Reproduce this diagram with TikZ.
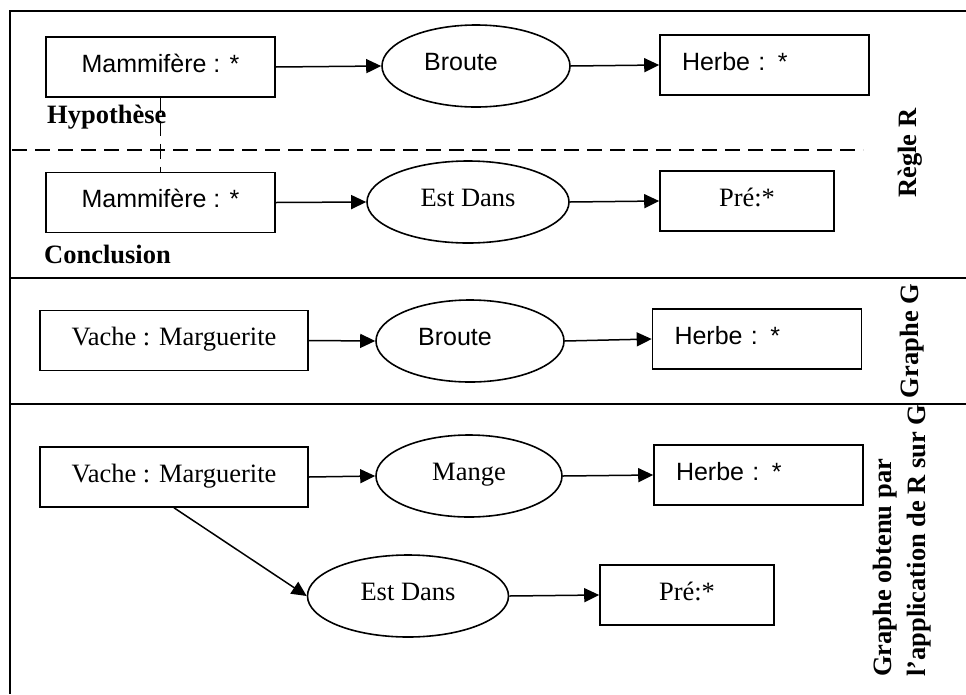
\documentclass[tikz,border=0pt]{standalone}
\usepackage{fontspec}
\setmainfont{Liberation Serif}
\newfontfamily\arialfont{Liberation Sans}
\usetikzlibrary{arrows.meta,shapes.geometric}

\begin{document}
\begin{tikzpicture}[x=1pt,y=-1pt,
  frameline/.style={line width=2pt},
  sepline/.style={line width=1.6pt, dash pattern=on 15pt off 8pt},
  conbox/.style={draw, line width=1.6pt, inner sep=0pt, minimum height=60pt, text depth=8pt},
  herbebox/.style={conbox, sanstxt, text width=165pt, inner xsep=22pt, align=left},
  relell/.style={draw, ellipse, line width=1.6pt, inner sep=0pt, minimum height=82pt, text depth=8pt},
  sanstxt/.style={font=\arialfont\fontsize{25}{30}\selectfont},
  sertxt/.style={font=\fontsize{26.5}{30}\selectfont},
  lbl/.style={font=\bfseries\fontsize{26.5}{30}\selectfont, inner sep=0pt},
  arr/.style={line width=1.5pt, -{Triangle[length=15pt,width=14pt]}},
]
\useasboundingbox (0,0) rectangle (966,694);

% outer frame and section rules
\draw[frameline] (966,10.5) -- (9.5,10.5) -- (9.5,694);
\draw[frameline] (9.5,278) -- (966,278);
\draw[frameline] (9.5,404) -- (966,404);
\draw[sepline] (12,150) -- (863,150);

% rule R : hypothesis
\node[conbox, sanstxt, minimum width=229pt] (m1) at (160.5,67) {Mammifère : *};
\node[relell, sanstxt, minimum width=188pt] (br1) at (476,66) {\hspace*{-30pt}Broute};
\node[herbebox] (h1) at (764.5,65) {Herbe : *};
\node[lbl, anchor=base west] (hyp) at (47,123) {Hypothèse};

% rule R : conclusion
\node[conbox, sanstxt, minimum width=229pt] (m2) at (160.5,202.5) {Mammifère : *};
\node[relell, sertxt, minimum width=202pt] (ed1) at (468,202) {Est Dans};
\node[conbox, sertxt, minimum width=174pt] (p1) at (747,201) {Pré:*};
\node[lbl, anchor=base west] (concl) at (44,263) {Conclusion};

\draw[sepline] (m1.south) -- (m2.north);
\draw[arr] (m1.east) -- (br1.west);
\draw[arr] (br1.east) -- (h1.west);
\draw[arr] (m2.east) -- (ed1.west);
\draw[arr] (ed1.east) -- (p1.west);

% graph G
\node[conbox, sertxt, minimum width=268pt] (v1) at (174,340.5) {Vache : Marguerite};
\node[relell, sanstxt, minimum width=188pt] (br2) at (470,341) {\hspace*{-30pt}Broute};
\node[herbebox] (h2) at (757,339) {Herbe : *};
\draw[arr] (v1.east) -- (br2.west);
\draw[arr] (br2.east) -- (h2.west);

% graph obtained by applying R to G
\node[conbox, sertxt, minimum width=268pt] (v2) at (174,477) {Vache : Marguerite};
\node[relell, sertxt, minimum width=186pt] (mg) at (469,476) {Mange};
\node[herbebox] (h3) at (758.5,475) {Herbe : *};
\node[relell, sertxt, minimum width=201pt] (ed2) at (408,596) {Est Dans};
\node[conbox, sertxt, minimum width=174pt] (p2) at (687,595) {Pré:*};
\draw[arr] (v2.east) -- (mg.west);
\draw[arr] (mg.east) -- (h3.west);
\draw[arr] (v2.south) -- (ed2.west);
\draw[arr] (ed2.east) -- (p2.west);

% side captions
\node[lbl, rotate=90, anchor=base] (regle) at (916,153) {Règle R};
\node[lbl, rotate=90, anchor=base] (grg) at (918,341) {Graphe G};
\node[lbl, rotate=90, anchor=base west] (res1) at (891,677) {Graphe obtenu par};
\node[lbl, rotate=90, anchor=base west] (res2) at (925,677) {l’application de R sur G};
\end{tikzpicture}
\end{document}
